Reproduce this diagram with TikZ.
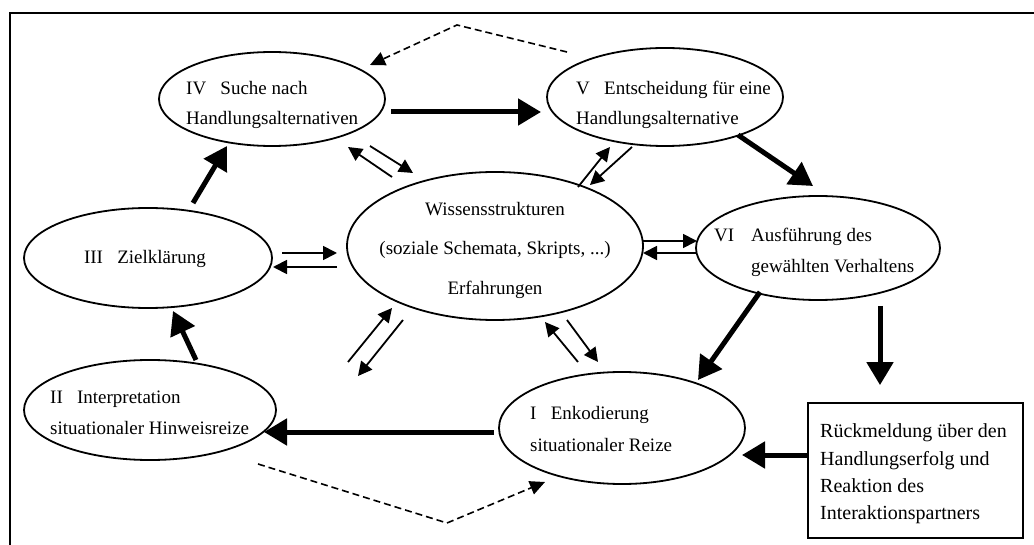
\documentclass[tikz,border=0pt]{standalone}
\usepackage{fontspec}
\setmainfont{Liberation Serif}
\usetikzlibrary{arrows.meta,shapes.geometric,calc}
\newcommand\numgap{\hspace{0.75em}}
\begin{document}
\begin{tikzpicture}[x=1pt,y=-1pt,
  every node/.style={font=\fontsize{19}{30}\selectfont},
  phase/.style={ellipse, draw, line width=1.8pt, inner sep=0pt},
  txt/.style={anchor=base west, inner sep=0pt},
  ctxt/.style={anchor=base, inner sep=0pt},
  boxtxt/.style={anchor=base west, inner sep=0pt, font=\fontsize{20}{27}\selectfont},
  mainflow/.style={line width=5pt, -{Triangle[length=23pt,width=26pt]}},
  exchange/.style={line width=1.8pt, -{Triangle[length=14pt,width=14pt]}},
  feedforward/.style={line width=1.6pt, dash pattern=on 7pt off 4pt, -{Triangle[length=15pt,width=14pt]}},
]
\useasboundingbox (0,0) rectangle (1034,545);
% frame
\draw[line width=2.6pt] (1034,13) -- (10,13) -- (10,545);

% phases
\node[phase, minimum width=226pt, minimum height=94pt] (IV) at (272,99) {};
\node[phase, minimum width=236pt, minimum height=98pt] (V) at (665,97) {};
\node[phase, minimum width=248pt, minimum height=100pt] (III) at (148,258) {};
\node[phase, minimum width=296pt, minimum height=148pt] (C) at (495,246) {};
\node[phase, minimum width=244pt, minimum height=104pt] (VI) at (818,248) {};
\node[phase, minimum width=252pt, minimum height=100pt] (II) at (150,410) {};
\node[phase, minimum width=246pt, minimum height=112pt] (I) at (622,428) {};
\node[draw, line width=1.8pt, minimum width=215pt, minimum height=135pt, inner sep=0pt] (R) at (915.5,470.5) {};

% labels
\node[txt] (IVa) at (186,95) {IV\numgap Suche nach};
\node[txt] (IVb) at (186,125) {Handlungsalternativen};
\node[txt] (Va) at (576,95) {V\numgap Entscheidung für eine};
\node[txt] (Vb) at (576,125) {Handlungsalternative};
\node[ctxt] (IIIa) at (145,264) {III\numgap Zielklärung};
\node[ctxt] (Ca) at (495,216) {Wissensstrukturen};
\node[ctxt] (Cb) at (495,255) {(soziale Schemata, Skripts, ...)};
\node[ctxt] (Cc) at (495,295) {Erfahrungen};
\node[txt] (VIa) at (714,242) {\makebox[37pt][l]{VI}Ausführung des};
\node[txt] (VIb) at (751,273) {gewählten Verhaltens};
\node[txt] (IIa) at (50,403) {II\numgap Interpretation};
\node[txt] (IIb) at (50,435) {situationaler Hinweisreize};
\node[txt] (Ia) at (530,420) {I\numgap Enkodierung};
\node[txt] (Ib) at (530,451) {situationaler Reize};
\node[boxtxt] (Ra) at (820,437) {Rückmeldung über den};
\node[boxtxt] (Rb) at (820,465) {Handlungserfolg und};
\node[boxtxt] (Rc) at (820,492) {Reaktion des};
\node[boxtxt] (Rd) at (820,519) {Interaktionspartners};

% main cycle
\draw[mainflow] ($(IV)+(119,13)$) -- ($(V)+(-124,15)$);
\draw[mainflow] ($(V)+(73,38)$) -- ($(VI)+(-5,-62)$);
\draw[mainflow] ($(VI)+(-58,44)$) -- ($(I)+(76,-48)$);
\draw[mainflow] ($(VI)+(62,58)$) -- ($(R.north)+(-35.5,-17)$);
\draw[mainflow] ($(R.west)+(0,-15.5)$) -- ($(I)+(120,27)$);
\draw[mainflow] ($(I)+(-128,4)$) -- ($(II)+(114,22)$);
\draw[mainflow] ($(II)+(46,-50)$) -- ($(III)+(25,53)$);
\draw[mainflow] ($(III)+(45,-55)$) -- ($(IV)+(-45,47)$);

% exchange with the knowledge structures
\draw[exchange] ($(III)+(134,-5)$) -- ($(C)+(-158,7)$);
\draw[exchange] ($(C)+(-158,21)$) -- ($(III)+(125,9)$);
\draw[exchange] ($(C)+(148,-5)$) -- ($(VI)+(-121,-7)$);
\draw[exchange] ($(VI)+(-121,5)$) -- ($(C)+(148,7)$);
\draw[exchange] ($(C)+(83,-59)$) -- ($(V)+(-55,50)$);
\draw[exchange] ($(V)+(-33,50)$) -- ($(C)+(95,-61)$);
\draw[exchange] ($(C)+(-103,-69)$) -- ($(IV)+(76,48)$);
\draw[exchange] ($(IV)+(98,47)$) -- ($(C)+(-82,-73)$);
\draw[exchange] ($(II)+(198,-48)$) -- ($(C)+(-103,62)$);
\draw[exchange] ($(C)+(-92,74)$) -- ($(II)+(208,-34)$);
\draw[exchange] ($(I)+(-44,-66)$) -- ($(C)+(50,76)$);
\draw[exchange] ($(C)+(72,74)$) -- ($(I)+(-24,-66)$);

% feed-forward links
\draw[feedforward] ($(V)+(-98,-45)$) -- ++(-110,-27) -- ($(IV)+(98,-34)$);
\draw[feedforward] ($(II)+(108,54)$) -- ++(189,59) -- ($(I)+(-77,54)$);
\end{tikzpicture}
\end{document}
